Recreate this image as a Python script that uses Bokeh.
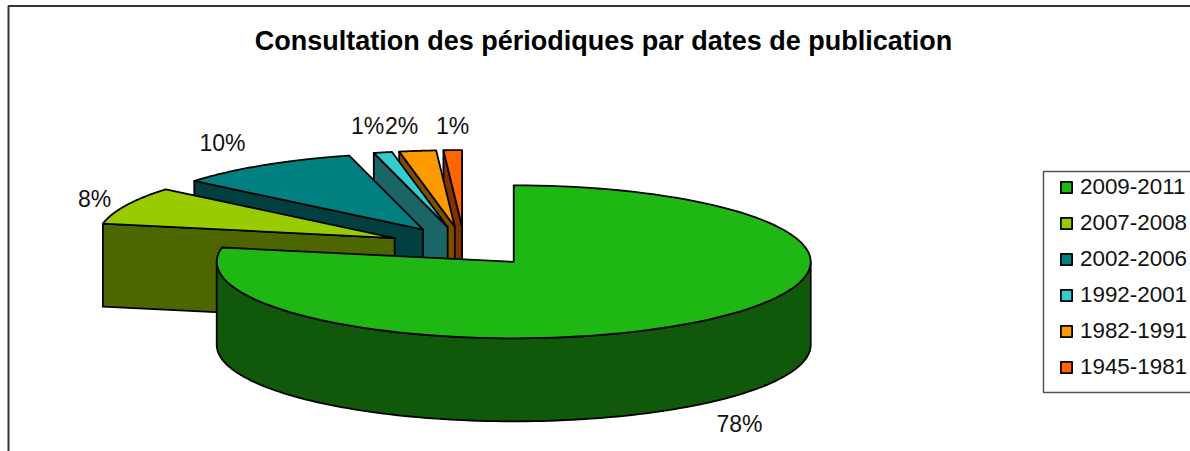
import numpy as np
from bokeh.core.properties import value
from bokeh.embed import file_html
from bokeh.models import Legend, LegendItem, Range1d
from bokeh.plotting import figure
from bokeh.resources import INLINE

# ---- data ----
categories = ["2009-2011", "2007-2008", "2002-2006", "1992-2001", "1982-1991", "1945-1981"]
shares = [78, 8, 10, 1, 2, 1]
share_labels = ["78%", "8%", "10%", "1%", "2%", "1%"]
top_colors = ["#1FB714", "#99CC00", "#008080", "#33CCCC", "#FF9900", "#FF6600"]
side_colors = ["#10590A", "#4D6600", "#004040", "#1A6666", "#804D00", "#803300"]
title_text = "Consultation des périodiques par dates de publication"

# ---- layout of the 3D pie (picture pixels) ----
W, H = 1190, 451
CX, CY = 464, 246      # pie centre before explosion
RX, RY = 297, 76.5     # ellipse radii
DEPTH = 83
EXPLODE = 0.26
LABEL_POS = [(739, 423), (94, 198), (222, 142), (367, 125), (401, 125), (452, 125)]

p = figure(width=W, height=H, output_backend="svg", toolbar_location=None,
           x_range=Range1d(0, W), y_range=Range1d(H, 0), x_axis_type=None, y_axis_type=None,
           min_border=0, outline_line_color=None)
p.grid.visible = False

line = dict(line_color="black", line_width=1.8, line_join="round")


def arc(apex, a0, a1, n=120):
    t = np.radians(np.linspace(a0, a1, n))
    return apex[0] + RX * np.sin(t), apex[1] - RY * np.cos(t)


# slice angles, clockwise from 12 o'clock
ends = np.cumsum(shares) / np.sum(shares) * 360
starts = np.concatenate([[0], ends[:-1]])

renderers = [None] * len(shares)
# painted from the back slice to the front one
for i in reversed(range(len(shares))):
    a0, a1 = starts[i], ends[i]
    mid = np.radians((a0 + a1) / 2)
    apex = (CX + EXPLODE * RX * np.sin(mid), CY - EXPLODE * RY * np.cos(mid))
    # radial wall on the starting side, when it faces the viewer
    if np.sin(np.radians(a0)) < -1e-9:
        ex, ey = arc(apex, a0, a0, 1)
        p.patch([apex[0], ex[0], ex[0], apex[0]],
                [apex[1], ey[0], ey[0] + DEPTH, apex[1] + DEPTH],
                fill_color=side_colors[i], **line)
    # outer wall, the front part of the rim
    f0, f1 = max(a0, 90), min(a1, 270)
    if f1 > f0:
        fx, fy = arc(apex, f0, f1)
        p.patch(np.concatenate([fx, fx[::-1]]), np.concatenate([fy, fy[::-1] + DEPTH]),
                fill_color=side_colors[i], **line)
    # top surface
    tx, ty = arc(apex, a0, a1)
    renderers[i] = p.patch(np.concatenate([[apex[0]], tx]), np.concatenate([[apex[1]], ty]),
                           fill_color=top_colors[i], **line)

# data labels
p.text([q[0] for q in LABEL_POS], [q[1] for q in LABEL_POS], text=share_labels,
       text_font=value("Liberation Sans"), text_font_size="23px", text_color="#111111",
       text_align="center", text_baseline="middle")

# title
p.text([603], [40], text=[title_text], text_font=value("Liberation Sans"),
       text_font_size="27px", text_font_style="bold", text_color="black",
       text_align="center", text_baseline="middle")

# chart frame (top and left are the only sides inside the picture)
p.line([8, 8, W], [H, 5.5, 5.5], line_color="#333333", line_width=2)

# legend box, open to the right edge of the picture
p.quad(left=[1043], right=[W + 10], top=[171], bottom=[392], fill_color="white",
       line_color="#555555", line_width=1.5)

legend = Legend(items=[LegendItem(label=c, renderers=[r]) for c, r in zip(categories, renderers)],
                location=(1059, H - 380), padding=0, margin=0, spacing=10,
                glyph_width=14, glyph_height=14, label_standoff=7,
                label_text_font="Liberation Sans", label_text_font_size="22.4px",
                label_text_color="#111111", background_fill_alpha=0, border_line_color=None)
p.add_layout(legend, "center")

open("out.html", "w").write(file_html(p, INLINE))
